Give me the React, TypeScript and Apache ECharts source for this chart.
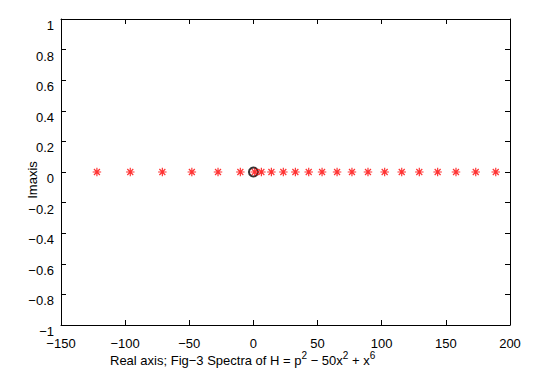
import React, { useEffect, useRef } from "react";
import * as echarts from "echarts";

const realParts = [-122, -96, -71, -48, -27.6, -10.2, 1, 6.2, 14, 23.3, 32.7, 43.1, 53.5, 65.2, 76.8, 89.3, 102.3, 115.6, 129.3, 143.6, 157.9, 173.3, 188.9];
const imagParts = [0, 0, 0, 0, 0, 0, 0, 0, 0, 0, 0, 0, 0, 0, 0, 0, 0, 0, 0, 0, 0, 0, 0];
const originPoint = [[0, 0]];
const xTicks = { min: -150, max: 200, interval: 50 };
const yTicks = { min: -1, max: 1, interval: 0.2 };

const STAR =
  "path://M4.3 0H5.7V10H4.3Z M0 4.3H10V5.7H0Z M1 2L2 1L9 8L8 9Z M8 1L9 2L2 9L1 8Z";

const fmt = (v: number) => {
  const n = parseFloat(v.toFixed(1));
  return String(n).replace("-", "\u2212");
};

export default function App() {
  const ref = useRef<HTMLDivElement>(null);
  useEffect(() => {
    document.body.style.margin = "0";
    const chart = echarts.init(ref.current!, null, { renderer: "svg" });
    const font = "Liberation Sans, Arial, sans-serif";
    const axisCommon = {
      axisLine: { show: true, onZero: false, lineStyle: { color: "#000", width: 1 } },
      axisTick: { show: true, inside: true, length: 5, lineStyle: { color: "#000" } },
      splitLine: { show: false },
    };
    chart.setOption({
      animation: false,
      backgroundColor: "#fff",
      grid: { left: 61, right: 24, top: 19, bottom: 48 },
      xAxis: [
        {
          type: "value",
          ...xTicks,
          position: "bottom",
          ...axisCommon,
          axisLabel: { color: "#000", fontFamily: font, fontSize: 13, margin: 12, formatter: fmt },
        },
        {
          type: "value",
          ...xTicks,
          position: "top",
          ...axisCommon,
          axisLabel: { show: false },
        },
      ],
      yAxis: [
        {
          type: "value",
          ...yTicks,
          position: "left",
          ...axisCommon,
          axisLabel: {
            color: "#000",
            fontFamily: font,
            fontSize: 13,
            margin: 7,
            verticalAlign: "top",
            formatter: fmt,
          },
        },
        {
          type: "value",
          ...yTicks,
          position: "right",
          ...axisCommon,
          axisLabel: { show: false },
        },
      ],
      graphic: [
        {
          type: "text",
          x: 32,
          y: 180,
          rotation: Math.PI / 2,
          style: {
            text: "Imaxis",
            fontFamily: font,
            fontSize: 13,
            fill: "#000",
            align: "center",
            verticalAlign: "middle",
          },
        },
        {
          type: "text",
          left: 110,
          top: 350,
          style: {
            text: "{n|Real axis; Fig\u22123 Spectra of H = p}{s|2}{n| \u2212 50x}{s|2}{n| + x}{s|6}",
            fontFamily: font,
            fontSize: 13,
            fill: "#000",
            rich: {
              n: { fontFamily: font, fontSize: 13, color: "#000", verticalAlign: "bottom", lineHeight: 17 },
              s: { fontFamily: font, fontSize: 10, color: "#000", verticalAlign: "top", lineHeight: 17, padding: [0, 0, 7, 0] },
            },
          },
        },
      ],
      series: [
        {
          type: "scatter",
          data: originPoint,
          symbol: "emptyCircle",
          symbolSize: 9,
          itemStyle: { color: "#000", borderColor: "#222", borderWidth: 1.3 },
          z: 2,
        },
        {
          type: "scatter",
          data: realParts.map((x, i) => [x, imagParts[i]]),
          symbol: STAR,
          symbolSize: 8.5,
          itemStyle: { color: "#ff0000" },
          z: 3,
        },
      ],
    });
    return () => chart.dispose();
  }, []);
  return <div ref={ref} style={{ width: 534, height: 373 }} />;
}
